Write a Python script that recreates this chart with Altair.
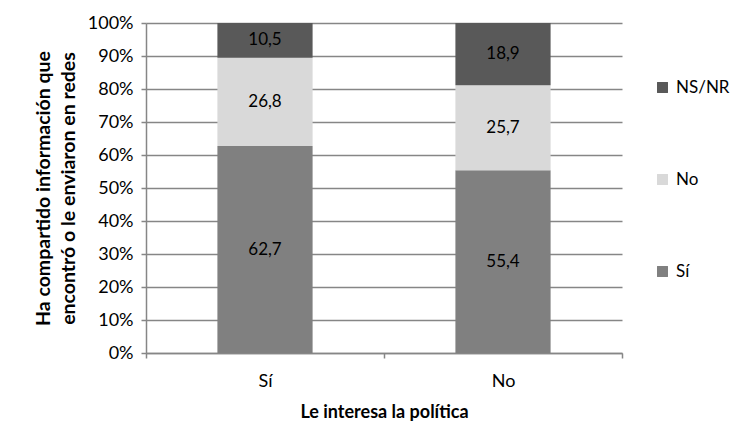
import altair as alt
import pandas as pd

interes = ["Sí", "Sí", "Sí", "No", "No", "No"]
respuesta = ["Sí", "No", "NS/NR", "Sí", "No", "NS/NR"]
valores = [62.7, 26.8, 10.5, 55.4, 25.7, 18.9]
orden = [0, 1, 2, 0, 1, 2]

cat_order = ["Sí", "No"]
legend_order = ["NS/NR", "No", "Sí"]
colors = ["#595959", "#d9d9d9", "#808080"]
y_ticks = [0, 0.1, 0.2, 0.3, 0.4, 0.5, 0.6, 0.7, 0.8, 0.9, 1.0]

df = pd.DataFrame({
    "interes": interes,
    "respuesta": respuesta,
    "valor": valores,
    "orden": orden,
    "etiqueta": [f"{v:.1f}".replace(".", ",") for v in valores],
})

FONT = "Lato"

base = alt.Chart(df).transform_stack(
    stack="valor",
    groupby=["interes"],
    sort=[alt.SortField("orden", order="ascending")],
    as_=["y0", "y1"],
    offset="normalize",
).transform_calculate(
    mid="(datum.y0 + datum.y1) / 2"
)

x_axis = alt.Axis(
    title="Le interesa la política",
    labelAngle=0,
    tickBand="extent",
    tickSize=5,
    labelPadding=14,
    titlePadding=13,
)

y_axis = alt.Axis(
    title=["Ha compartido información que", "encontró o le enviaron en redes"],
    format=".0%",
    values=y_ticks,
    labelOverlap=False,
    tickSize=5,
    labelPadding=8,
    titlePadding=9,
    titleLineHeight=25,
    titleFontSize=19.5,
)

y_scale = alt.Scale(domain=[0, 1])
x_scale = alt.Scale(paddingInner=0, paddingOuter=0)

bars = base.mark_bar(width=alt.RelativeBandSize(0.4)).encode(
    x=alt.X("interes:N", sort=cat_order, scale=x_scale, axis=x_axis),
    y=alt.Y("y0:Q", scale=y_scale, axis=y_axis),
    y2="y1:Q",
    color=alt.Color(
        "respuesta:N",
        scale=alt.Scale(domain=legend_order, range=colors),
        legend=alt.Legend(
            title=None,
            orient="none",
            legendX=508,
            legendY=56,
            symbolType="square",
            symbolSize=120,
            symbolStrokeWidth=0,
            rowPadding=74,
            labelFontSize=17,
            labelFont=FONT,
            labelColor="#000000",
            labelOffset=5,
        ),
    ),
)

texts = base.mark_text(fontSize=17, font=FONT, color="#000000").encode(
    x=alt.X("interes:N", sort=cat_order, scale=x_scale, axis=x_axis),
    y=alt.Y("mid:Q", scale=y_scale, axis=y_axis),
    text="etiqueta:N",
)

chart = (bars + texts).properties(
    width=476,
    height=330,
    autosize=alt.AutoSizeParams(type="none"),
    padding={"left": 138, "top": 15, "right": 117, "bottom": 87},
).configure_view(stroke=None).configure_axis(
    labelFont=FONT,
    titleFont=FONT,
    labelFontSize=18,
    titleFontSize=18,
    titleFontWeight="bold",
    labelColor="#000000",
    titleColor="#000000",
    domainColor="#868686",
    tickColor="#868686",
    gridColor="#868686",
    domainWidth=1.5,
    tickWidth=1.5,
    gridWidth=1.5,
).configure_axisX(grid=False).configure_axisY(grid=True)

chart.save("out.html", embed_options={"renderer": "svg", "actions": False})
